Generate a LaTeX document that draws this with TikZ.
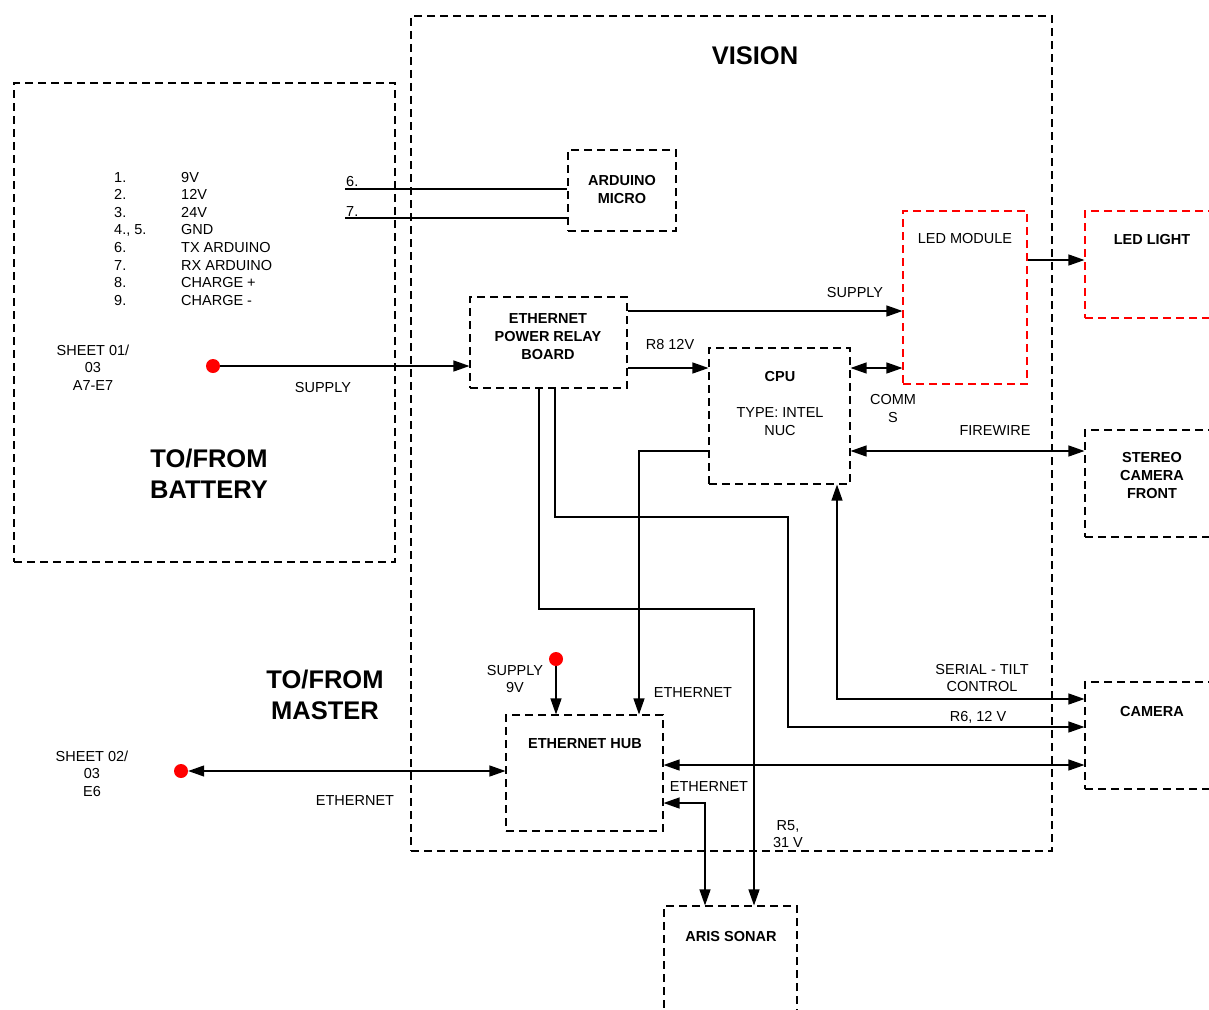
\documentclass[tikz,border=0pt]{standalone}
\usepackage{fontspec}
\setmainfont{Liberation Sans}
\usetikzlibrary{arrows.meta}
\tikzset{
  txt/.style={font=\fontsize{14.5}{17.6}\selectfont, inner sep=0pt, align=center},
  btxt/.style={font=\fontsize{14.5}{18}\selectfont\bfseries, inner sep=0pt, align=center},
  bigtxt/.style={font=\fontsize{25.5}{31}\selectfont\bfseries, inner sep=0pt, align=center},
  box/.style={draw=black, dash pattern=on 8pt off 5pt, line width=1.1pt, inner sep=0pt},
  rbox/.style={box, draw=red},
  wire/.style={line width=1.25pt, draw=black},
  arr/.style={wire, -{Triangle[length=16pt,width=11pt]}},
  darr/.style={wire, {Triangle[length=16pt,width=11pt]}-{Triangle[length=16pt,width=11pt]}},
  reddot/.style={circle, fill=red, minimum size=14pt, inner sep=0pt}
}
\begin{document}
\begin{tikzpicture}[x=1pt,y=-1pt]
\useasboundingbox (0,0) rectangle (1209,1009);
\clip (0,0) rectangle (1209,1009);
\fill[white] (0,0) rectangle (1209,1009);

% boxes
\node[box, minimum width=381pt, minimum height=479pt] (battery) at (204.5,322.5) {};
\node[box, minimum width=641pt, minimum height=835pt] (vision) at (731.5,433.5) {};
\node[box, minimum width=108pt, minimum height=81pt] (ard) at (622,190.5) {};
\node[rbox, minimum width=124pt, minimum height=173pt] (led) at (965,297.5) {};
\node[rbox, minimum width=155pt, minimum height=107pt] (light) at (1162.5,264.5) {};
\node[box, minimum width=157pt, minimum height=91pt] (relay) at (548.5,342.5) {};
\node[box, minimum width=141pt, minimum height=136pt] (cpu) at (779.5,416) {};
\node[box, minimum width=155pt, minimum height=107pt] (stereo) at (1162.5,483.5) {};
\node[box, minimum width=155pt, minimum height=107pt] (cam) at (1162.5,735.5) {};
\node[box, minimum width=157pt, minimum height=116pt] (hub) at (584.5,773) {};
\node[box, minimum width=133pt, minimum height=134pt] (sonar) at (730.5,973) {};

% titles
\node[bigtxt] (tvision) at (755,56) {VISION};
\node[bigtxt] (tbatt) at (209,473.5) {TO/FROM\\BATTERY};
\node[bigtxt] (tmaster) at (325,694.5) {TO/FROM\\MASTER};

% box texts
\node[btxt] (tard) at (622,190) {ARDUINO\\MICRO};
\node[txt] (tled) at (965,239) {LED MODULE};
\node[btxt] (tlight) at (1152,240) {LED LIGHT};
\node[btxt] (trelay) at (548,337) {ETHERNET\\POWER RELAY\\BOARD};
\node[btxt] (tcpu) at (780,377) {CPU};
\node[txt] (tcpu2) at (780,421.5) {TYPE: INTEL\\NUC};
\node[btxt] (tstereo) at (1152,476) {STEREO\\CAMERA\\FRONT};
\node[btxt] (tcam) at (1152,711) {CAMERA};
\node[btxt] (thub) at (585,744) {ETHERNET HUB};
\node[btxt] (tsonar) at (731,936) {ARIS SONAR};

% pin list
\foreach \n/\v/\y [count=\i] in {1./9V/182, 2./12V/199.6, 3./24V/217.2, {4., 5.}/GND/234.8, 6./TX ARDUINO/252.4, 7./RX ARDUINO/270, 8./CHARGE +/287.6, 9./CHARGE -/305.2}{
  \node[txt, anchor=base west] (pn\i) at (114,\y) {\n};
  \node[txt, anchor=base west] (pv\i) at (181,\y) {\v};
}
\node[txt] (sheet1) at (93,367.5) {SHEET 01/\\03\\A7-E7};
\node[txt] (sheet2) at (92,773.5) {SHEET 02/\\03\\E6};

% red dots
\node[reddot] (d1) at (213,366) {};
\node[reddot] (d2) at (181,771) {};
\node[reddot] (d3) at (556,659) {};

% arduino lines
\coordinate (c6) at (345,189);
\coordinate (c7) at (345,218);
\node[txt, anchor=base west] (l6) at (346,186.5) {6.};
\node[txt, anchor=base west] (l7) at (346,216) {7.};
\draw[wire] (c6) -- (ard.west |- c6);
\draw[wire] (c7) -- (ard.west |- c7);

% supply from battery
\draw[arr] (d1.east) -- (relay.west |- d1);
\node[txt] (lsup1) at (323,388) {SUPPLY};

% relay -> LED supply
\draw[arr] (relay.east |- 0,311) -- (led.west |- 0,311);
\node[txt] (lsup2) at (855,293) {SUPPLY};

% R8
\draw[arr] (relay.east |- 0,368) -- (cpu.west |- 0,368);
\node[txt] (lr8) at (670,345) {R8 12V};

% comms
\draw[darr] (cpu.east |- 0,368) -- (led.west |- 0,368);
\node[txt] (lcomms) at (893,408.5) {COMM\\S};

% LED -> light
\draw[arr] (led.east |- 0,260) -- (light.west |- 0,260);

% firewire
\draw[darr] (cpu.east |- 0,451) -- (stereo.west |- 0,451);
\node[txt] (lfire) at (995,431) {FIREWIRE};

% CPU -> hub ethernet
\draw[arr] (cpu.west |- 0,451) -| (hub.north -| 639,0);
\node[txt] (leth1) at (693,693) {ETHERNET};

% R5
\draw[arr] (relay.south -| 539,0) |- (754,609) -- (sonar.north -| 754,0);
\node[txt] (lr5) at (788,834) {R5,\\31 V};

% R6
\draw[arr] (relay.south -| 555,0) |- (788,517) |- (cam.west |- 0,727);
\node[txt] (lr6) at (978,717) {R6, 12 V};

% serial tilt
\draw[darr] (cam.west |- 0,699) -| (cpu.south -| 837,0);
\node[txt] (lser) at (982,678) {SERIAL - TILT\\CONTROL};

% hub <-> camera
\draw[darr] (hub.east |- 0,765) -- (cam.west |- 0,765);

% hub <-> sonar
\draw[darr] (hub.east |- 0,803) -| (sonar.north -| 705,0);
\node[txt] (leth2) at (709,787) {ETHERNET};

% supply 9V
\draw[arr] (d3.south) -- (hub.north -| d3);
\node[txt] (lsup3) at (515,679) {SUPPLY\\9V};

% master ethernet
\draw[darr] (d2.east) -- (hub.west |- d2);
\node[txt] (leth3) at (355,800) {ETHERNET};
\end{tikzpicture}
\end{document}
